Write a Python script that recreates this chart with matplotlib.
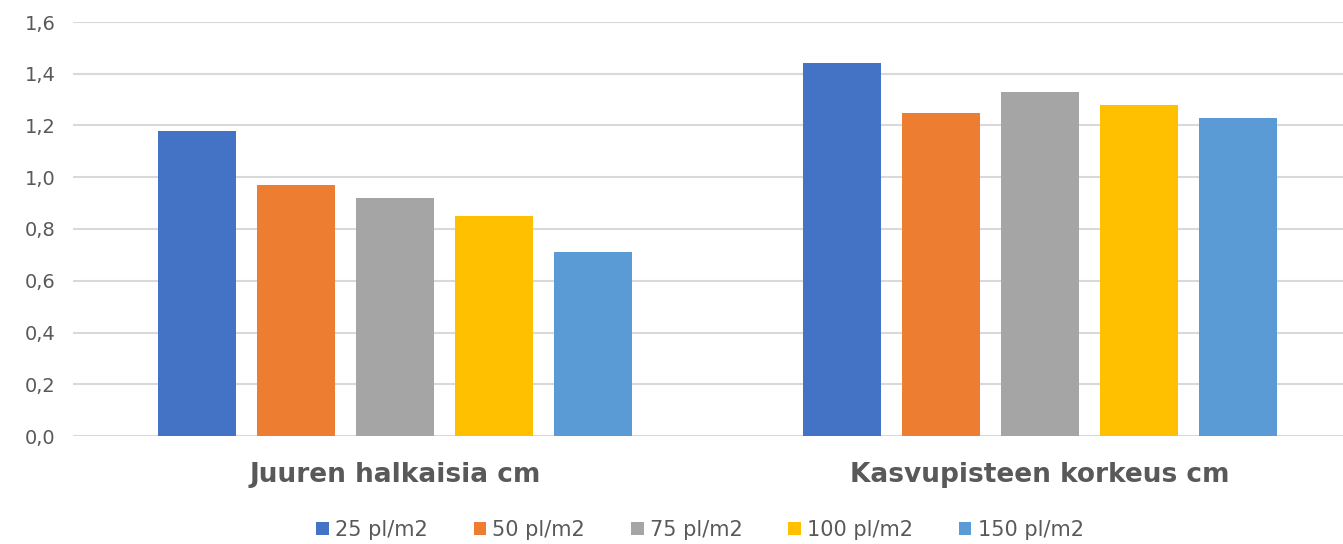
import numpy as np
import matplotlib.pyplot as plt
from matplotlib.ticker import FuncFormatter

categories = ['Juuren halkaisia cm', 'Kasvupisteen korkeus cm']
series = ['25 pl/m2', '50 pl/m2', '75 pl/m2', '100 pl/m2', '150 pl/m2']
values = [
    [1.18, 1.44],
    [0.97, 1.25],
    [0.92, 1.33],
    [0.85, 1.28],
    [0.71, 1.23],
]
colors = ['#4472C4', '#ED7D31', '#A5A5A5', '#FFC000', '#5B9BD5']

plt.rcParams['font.family'] = ['DejaVu Sans']
txt = '#595959'

fig = plt.figure(figsize=(13.43, 5.44), dpi=100)
ax = fig.add_axes([72.5 / 1343, 108 / 544, (1343 - 72.5) / 1343, 414 / 544])

x = np.arange(len(categories))
width = 0.121
step = 0.1535
for i, (name, vals) in enumerate(zip(series, values)):
    ax.bar(x + (i - 2) * step, vals, width, color=colors[i], label=name, zorder=3)

ax.set_ylim(0, 1.6)
ax.set_xlim(-0.5, 1.47)
ax.set_yticks(np.arange(0, 1.61, 0.2))
ax.yaxis.set_major_formatter(FuncFormatter(lambda v, p: f'{v:.1f}'.replace('.', ',')))
ax.grid(axis='y', color='#D9D9D9', linewidth=1.5, zorder=0)
for s in ax.spines.values():
    s.set_visible(False)
ax.tick_params(axis='y', length=0, labelsize=14, labelcolor=txt, pad=12)
ax.set_xticks(x)
ax.set_xticklabels(categories, fontsize=19, fontweight='bold', color=txt)
ax.tick_params(axis='x', length=0, pad=19)

ax.legend(loc='center', bbox_to_anchor=(700 / 1343, 14 / 544), bbox_transform=fig.transFigure,
          ncol=5, frameon=False, fontsize=15, labelcolor=txt, handlelength=0.6,
          handleheight=0.6, handletextpad=0.3, columnspacing=2.2)

fig.savefig('out.png', dpi=100)
